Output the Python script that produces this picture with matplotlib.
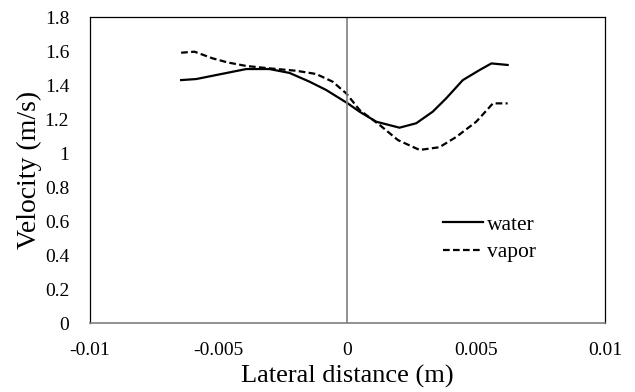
import matplotlib.pyplot as plt

plt.rcParams['font.family'] = ['Liberation Serif', 'DejaVu Serif']

# lateral position (m) and velocity (m/s)
water_x = [-0.00646, -0.00588, -0.00393, -0.00303, -0.00225, -0.00148, -0.00083, 0.00001,
           0.00047, 0.00112, 0.00202, 0.00267, 0.00331, 0.00383, 0.00448, 0.00513, 0.00559, 0.00622]
water_v = [1.429, 1.435, 1.494, 1.494, 1.471, 1.420, 1.371, 1.292,
           1.243, 1.184, 1.149, 1.175, 1.243, 1.321, 1.429, 1.488, 1.527, 1.518]

vapor_x = [-0.00646, -0.00594, -0.00524, -0.00466, -0.00393, -0.00303, -0.002, -0.00122, -0.00058,
           -0.00005, 0.00047, 0.00125, 0.00196, 0.0028, 0.00357, 0.00422, 0.005, 0.00565, 0.00622]
vapor_v = [1.590, 1.596, 1.557, 1.533, 1.512, 1.498, 1.484, 1.465, 1.420,
           1.351, 1.253, 1.165, 1.076, 1.018, 1.034, 1.094, 1.184, 1.292, 1.292]

xticks = [-0.01, -0.005, 0, 0.005, 0.01]
xlabels = ['-0.01', '-0.005', '0', '0.005', '0.01']
yticks = [0, 0.2, 0.4, 0.6, 0.8, 1, 1.2, 1.4, 1.6, 1.8]
ylabels = ['0', '0.2', '0.4', '0.6', '0.8', '1', '1.2', '1.4', '1.6', '1.8']

fig = plt.figure(figsize=(6.35, 3.92), dpi=100)
ax = fig.add_axes([0.1417, 0.176, 0.811, 0.7806])

ax.plot(water_x, water_v, color='black', lw=1.6, label='water')
ax.plot(vapor_x, vapor_v, color='black', lw=1.6, ls=(0, (3, 1.5)), label='vapor')
ax.axvline(0, color='#7f7f7f', lw=1.2)

ax.set_xlim(-0.01, 0.01)
ax.set_ylim(0, 1.8)
ax.set_xticks(xticks)
ax.set_xticklabels(xlabels)
ax.set_yticks(yticks)
ax.set_yticklabels(ylabels)
ax.tick_params(length=0, labelsize=14)
ax.tick_params(axis='y', pad=15)
ax.tick_params(axis='x', pad=13.5)

for s in ax.spines.values():
    s.set_color('black')
    s.set_linewidth(0.9)
ax.spines['bottom'].set_color('#7f7f7f')
ax.spines['bottom'].set_linewidth(1.2)

ax.set_xlabel('Lateral distance (m)', fontsize=19)
ax.set_ylabel('Velocity (m/s)', fontsize=20)
ax.xaxis.set_label_coords(0.5, -0.137)
ax.yaxis.set_label_coords(-0.093, 0.5)

ax.legend(frameon=False, fontsize=15.5, handlelength=1.86, handletextpad=0.2,
          labelspacing=0.35, borderpad=0, borderaxespad=0,
          loc='center left', bbox_to_anchor=(0.6976, 0.3916),
          bbox_transform=fig.transFigure)

plt.savefig('out.png', dpi=100)
